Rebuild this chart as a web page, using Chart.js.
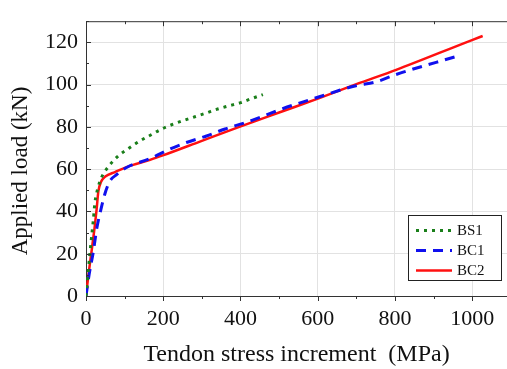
<!DOCTYPE html>
<html>
<head>
<meta charset="utf-8">
<script src="https://cdn.jsdelivr.net/npm/chart.js@4.4.0/dist/chart.umd.min.js"></script>
<style>
  html, body { margin: 0; padding: 0; background: #fff; }
  #wrap { width: 507px; height: 369px; }
</style>
</head>
<body>
<div id="wrap"><canvas id="myChart"></canvas></div>
<script>
"use strict";
const labels = ["BS1", "BC1", "BC2"];
const yTitle = "Applied load (kN)";
const xTitle = "Tendon stress increment  (MPa)";

const bs1Stress = [0, 5, 10, 15, 19, 23, 30, 40, 58, 84, 114, 140, 170, 196, 226, 252, 282, 312, 338, 367, 401, 423, 458];
const bs1Load = [0, 10, 20, 29, 36, 44, 50.5, 56, 61.2, 66.3, 70.3, 73.4, 76.4, 79, 81.3, 83, 84.8, 86.6, 88.3, 89.8, 91.5, 93, 95.3];

const bc1Stress = [0, 8, 19, 28, 40, 50, 62, 80, 105, 166, 218, 260, 312, 360, 412, 459, 509, 600, 699, 751, 803, 958];
const bc1Load = [0, 10, 21, 32, 42, 49, 54.4, 57.5, 60.8, 65, 69.6, 72.6, 75.7, 79, 82, 85.1, 88.6, 94, 99.5, 101.3, 104.8, 113.3];

const bc2Stress = [0, 7, 15, 22, 27.5, 32, 39, 50, 75, 105, 166, 199, 300, 397, 500, 604, 700, 803, 1001, 1027];
const bc2Load = [0, 11, 22, 32, 41, 49.5, 54, 56.5, 58.6, 61, 64.4, 66.5, 73.4, 80, 86.8, 93.6, 100.2, 107, 121.2, 123];

const xTicks = [0, 200, 400, 600, 800, 1000];
const yTicks = [0, 20, 40, 60, 80, 100, 120];

const toPoints = (xs, ys) => xs.map((x, i) => ({ x: x, y: ys[i] }));
const serif = "'Liberation Serif', 'DejaVu Serif', serif";

// inward ticks, top border, y title and the boxed legend
const frame = {
  id: "frame",
  afterDraw(chart) {
    const c = chart.ctx;
    const a = chart.chartArea;
    const xs = chart.scales.x;
    const ys = chart.scales.y;
    c.save();
    c.strokeStyle = "#333";
    c.lineWidth = 1;
    c.beginPath();
    c.moveTo(a.left, a.top + 0.5);
    c.lineTo(a.right, a.top + 0.5);
    for (let v = 0; v <= 1000; v += 100) {
      const px = Math.round(xs.getPixelForValue(v)) + 0.5;
      const len = v % 200 === 0 ? 5 : 3;
      c.moveTo(px, a.top);
      c.lineTo(px, a.top + len);
      c.moveTo(px, a.bottom);
      c.lineTo(px, a.bottom + len);
    }
    for (let v = 0; v <= 130; v += 10) {
      const py = Math.round(ys.getPixelForValue(v)) + 0.5;
      const len = v % 20 === 0 ? 5 : 3;
      c.moveTo(a.left, py);
      c.lineTo(a.left + len, py);
    }
    c.stroke();

    // y axis title, sits a bit lower than the axis middle
    c.fillStyle = "#111";
    c.font = "23px " + serif;
    c.textAlign = "center";
    c.textBaseline = "middle";
    c.translate(21, 171);
    c.rotate(-Math.PI / 2);
    c.fillText(yTitle, 0, 0);
    c.setTransform(1, 0, 0, 1, 0, 0);

    // legend
    const bx = 408.5, by = 215.5, bw = 93, bh = 65;
    c.fillStyle = "#fff";
    c.fillRect(bx, by, bw, bh);
    c.strokeStyle = "#222";
    c.strokeRect(bx, by, bw, bh);
    c.font = "15px " + serif;
    c.textAlign = "left";
    chart.data.datasets.forEach((ds, i) => {
      const y = by + 15 + i * 20;
      c.beginPath();
      c.strokeStyle = ds.borderColor;
      c.lineWidth = ds.borderWidth;
      c.setLineDash(ds.borderDash || []);
      c.moveTo(416, y);
      c.lineTo(452, y);
      c.stroke();
      c.setLineDash([]);
      c.fillStyle = "#111";
      c.fillText(ds.label, 457, y + 1);
    });
    c.restore();
  },
};

const ctx = document.getElementById("myChart");

new Chart(ctx, {
  type: "line",
  data: {
    datasets: [
      {
        label: labels[0],
        data: toPoints(bs1Stress, bs1Load),
        borderColor: "#1a7f1a",
        borderWidth: 3,
        borderDash: [3, 5],
        pointRadius: 0,
        cubicInterpolationMode: "monotone",
      },
      {
        label: labels[1],
        data: toPoints(bc1Stress, bc1Load),
        borderColor: "#1010ee",
        borderWidth: 3,
        borderDash: [10, 7],
        pointRadius: 0,
        cubicInterpolationMode: "monotone",
      },
      {
        label: labels[2],
        data: toPoints(bc2Stress, bc2Load),
        borderColor: "#ff1010",
        borderWidth: 2.5,
        pointRadius: 0,
        cubicInterpolationMode: "monotone",
      },
    ],
  },
  options: {
    responsive: true,
    maintainAspectRatio: false,
    animation: false,
    layout: { padding: { top: 11, right: 0, left: 0, bottom: 0 } },
    plugins: {
      legend: { display: false },
      tooltip: { enabled: false },
    },
    scales: {
      x: {
        type: "linear",
        min: 0,
        max: 1090,
        afterFit: (s) => { s.height = 73; },
        afterBuildTicks: (s) => { s.ticks = xTicks.map((v) => ({ value: v })); },
        ticks: {
          padding: 10,
          color: "#111",
          maxRotation: 0,
          callback: (v) => String(v),
          font: { family: serif, size: 22 },
        },
        grid: { color: "#e2e2e2", drawTicks: false },
        border: { color: "#333", width: 1 },
        title: {
          display: true,
          text: xTitle,
          color: "#111",
          font: { family: serif, size: 24 },
          padding: { top: 4, bottom: 0 },
        },
      },
      y: {
        min: 0,
        max: 130,
        afterFit: (s) => { s.width = 86; },
        afterBuildTicks: (s) => { s.ticks = yTicks.map((v) => ({ value: v })); },
        ticks: {
          padding: 8,
          color: "#111",
          callback: (v) => String(v),
          font: { family: serif, size: 22 },
        },
        grid: { color: "#e2e2e2", drawTicks: false },
        border: { color: "#333", width: 1 },
      },
    },
  },
  plugins: [frame],
});
</script>
</body>
</html>
